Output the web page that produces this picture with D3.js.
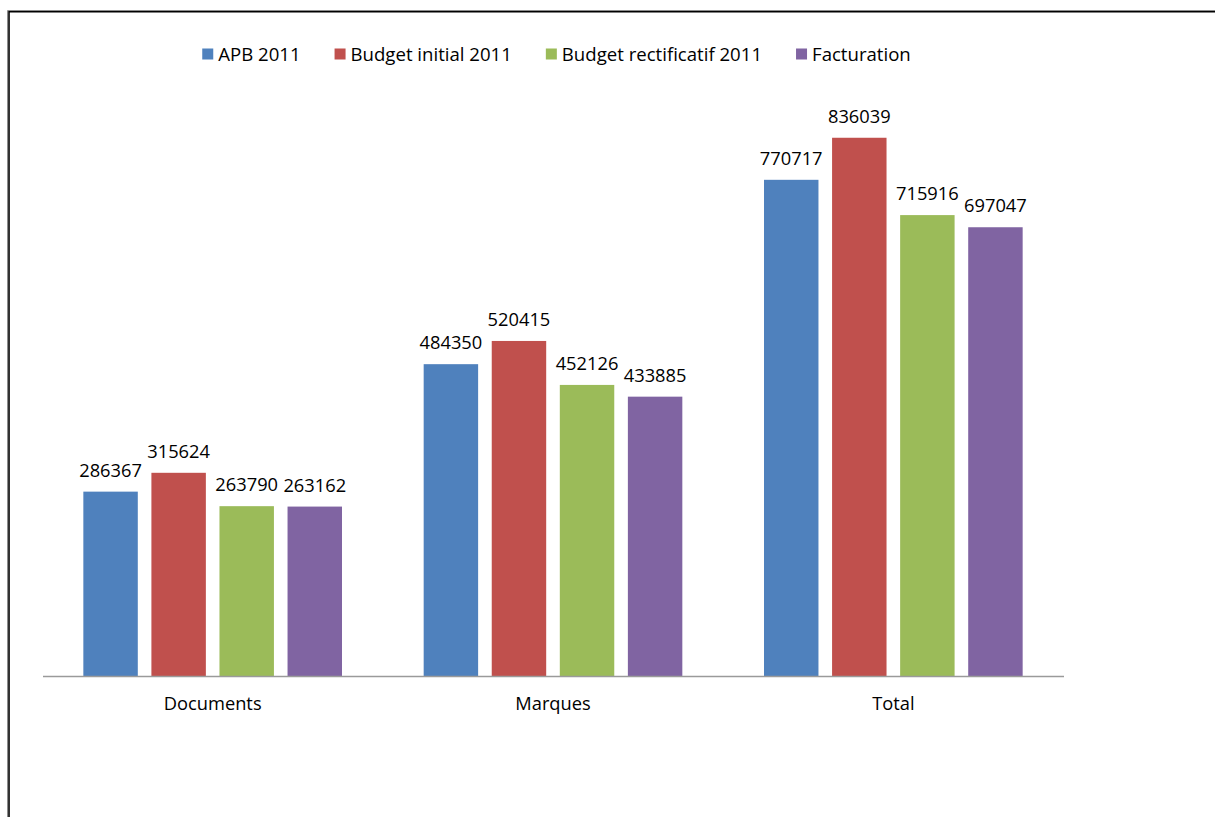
<!DOCTYPE html>
<html>
<head>
<meta charset="utf-8">
<script src="https://cdn.jsdelivr.net/npm/d3@7"></script>
<style>
  html, body { margin: 0; padding: 0; background: #fff; }
  svg { display: block; }
  text { font-family: "Open Sans", "Noto Sans", sans-serif; fill: #000; }
</style>
</head>
<body>
<svg id="chart" width="1215" height="817"></svg>
<script>
// Categories along the x axis
const categories = ["Documents", "Marques", "Total"];
// Series names (legend order)
const seriesNames = ["APB 2011", "Budget initial 2011", "Budget rectificatif 2011", "Facturation"];
// Values per series, in category order
const apb2011 = [286367, 484350, 770717];
const budgetInitial2011 = [315624, 520415, 836039];
const budgetRectificatif2011 = [263790, 452126, 715916];
const facturation = [263162, 433885, 697047];
const seriesColors = ["#4F81BD", "#C0504D", "#9BBB59", "#8064A2"];

const seriesValues = [apb2011, budgetInitial2011, budgetRectificatif2011, facturation];

const svg = d3.select("#chart");
const W = 1215, H = 817;

// Frame: grey outer line and black inner line on the top and left edges
svg.append("path")
  .attr("d", `M7.5,${H} V10.5 H${W}`)
  .attr("fill", "none").attr("stroke", "#8c8c8c").attr("stroke-width", 1);
svg.append("path")
  .attr("d", `M9,${H} V11.8 H${W}`)
  .attr("fill", "none").attr("stroke", "#000").attr("stroke-width", 1.6);

const plot = { left: 42.5, right: 1063.5, top: 32.2, bottom: 676 };

const x0 = d3.scaleBand()
  .domain(categories)
  .range([plot.left, plot.right])
  .paddingInner(0).paddingOuter(0);

// Four bars per group, spaced by a quarter of the bar width
const groupWidth = x0.bandwidth() * 0.76;
const x1 = d3.scaleBand()
  .domain(seriesNames)
  .range([0, groupWidth])
  .paddingInner(0.2).paddingOuter(0);

const y = d3.scaleLinear()
  .domain([0, 1000000])
  .range([plot.bottom, plot.top]);

const rows = [];
categories.forEach((c, ci) => {
  seriesNames.forEach((s, si) => {
    rows.push({ cat: c, series: s, si, value: seriesValues[si][ci] });
  });
});

const groupOffset = (x0.bandwidth() - groupWidth) / 2;

const bars = svg.append("g");
bars.selectAll("rect")
  .data(rows)
  .join("rect")
  .attr("x", d => x0(d.cat) + groupOffset + x1(d.series))
  .attr("y", d => y(d.value))
  .attr("width", x1.bandwidth())
  .attr("height", d => y(0) - y(d.value))
  .attr("fill", d => seriesColors[d.si]);

// Value labels above each bar
svg.append("g").selectAll("text")
  .data(rows)
  .join("text")
  .attr("x", d => x0(d.cat) + groupOffset + x1(d.series) + x1.bandwidth() / 2)
  .attr("y", d => y(d.value) - 15)
  .attr("text-anchor", "middle")
  .attr("font-size", 18.3)
  .text(d => d.value);

// Category axis
const xAxis = svg.append("g")
  .attr("transform", `translate(0,${plot.bottom})`)
  .call(d3.axisBottom(x0).tickSize(0).tickPadding(0));
xAxis.select(".domain").attr("stroke", "#9a9a9a").attr("stroke-width", 1.5);
xAxis.selectAll(".tick text")
  .attr("y", 34)
  .attr("dy", 0)
  .attr("font-size", 18.3)
  .attr("fill", "#000")
  .style("font-family", "\"Open Sans\", \"Noto Sans\", sans-serif");

// Legend, centred above the plot
const legend = svg.append("g");
const items = legend.selectAll("g")
  .data(seriesNames)
  .join("g");
items.append("rect")
  .attr("width", 11).attr("height", 11)
  .attr("y", 48.5)
  .attr("fill", (d, i) => seriesColors[i]);
items.append("text")
  .attr("x", 16)
  .attr("y", 60.5)
  .attr("font-size", 18.6)
  .text(d => d);

const widths = [];
items.each(function () {
  const t = d3.select(this).select("text").node().getComputedTextLength();
  widths.push(16 + t);
});
const gap = 34;
const total = d3.sum(widths) + gap * (widths.length - 1);
let start = 556.5 - total / 2;
items.attr("transform", (d, i) => {
  const tx = start;
  start += widths[i] + gap;
  return `translate(${tx},0)`;
});
</script>
</body>
</html>
